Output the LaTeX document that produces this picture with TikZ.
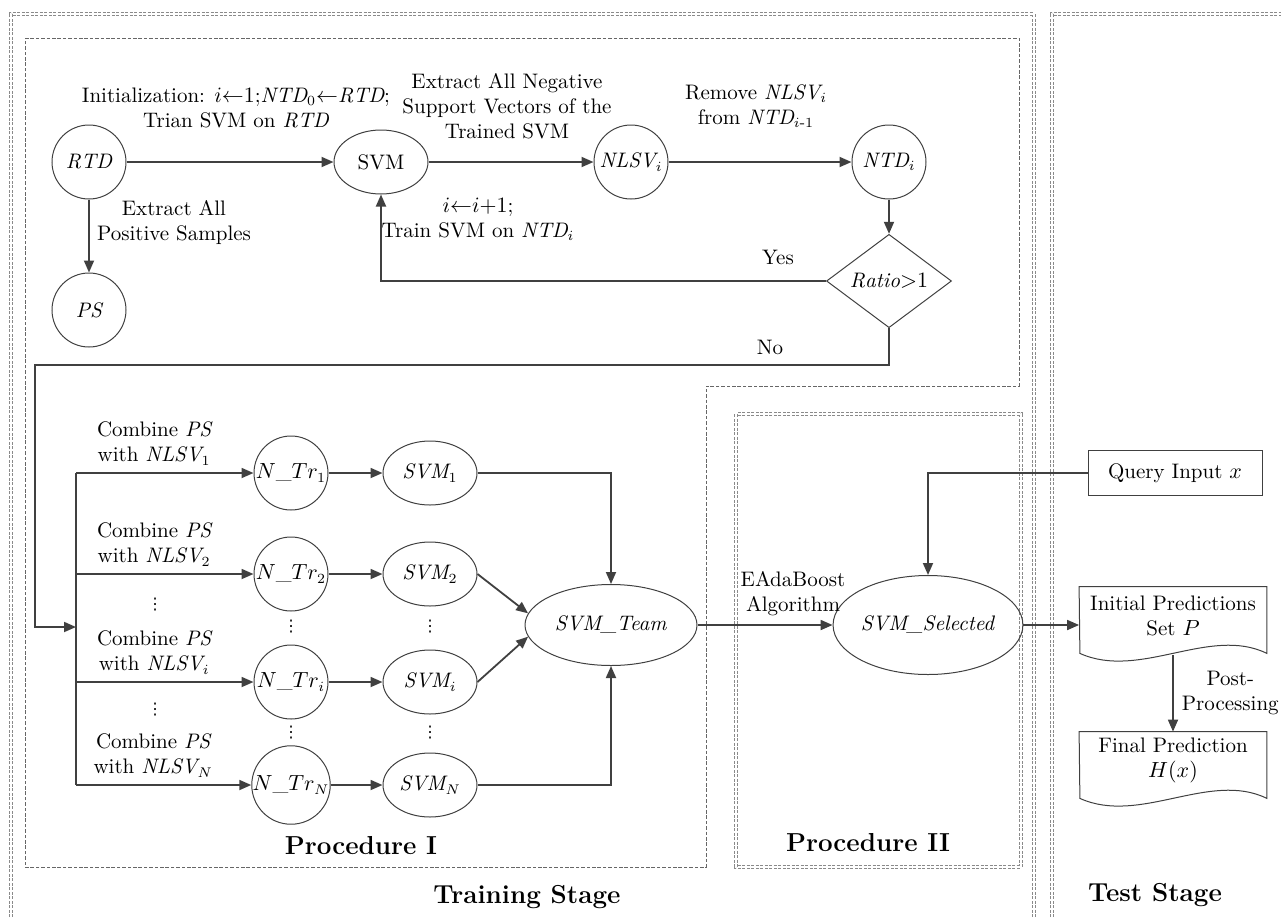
\documentclass[tikz,border=0pt]{standalone}
\usepackage{tikz}
\usepackage{amsmath, amssymb}
\usepackage{fontspec}
\usetikzlibrary{arrows.meta,shapes.geometric}
\newfontfamily\dotsfont{DejaVu Sans}
\definecolor{linegray}{HTML}{404040}
\definecolor{framegray}{HTML}{8A8A8A}
\newcommand{\smallvdots}{{\dotsfont\fontsize{8}{8}\selectfont ⋮}}

\begin{document}
\begin{tikzpicture}[x=0.5pt,y=-0.5pt,
  state/.style={circle, draw=linegray, line width=0.5pt, minimum size=37pt, inner sep=0pt},
  oval/.style={ellipse, draw=linegray, line width=0.5pt, minimum width=47pt, minimum height=32pt, inner sep=0pt},
  arr/.style={draw=linegray, line width=0.9pt, -{Triangle[length=6pt,width=5pt]}},
  bus/.style={draw=linegray, line width=0.9pt},
  frame/.style={draw=framegray, line width=0.4pt, dash pattern=on 1.5pt off 0.75pt},
  dframe/.style={frame, double=white, double distance=1.2pt},
  pframe/.style={draw=black!60, line width=0.45pt, dash pattern=on 1.8pt off 0.9pt},
  doc/.style={draw=linegray, line width=0.5pt},
  title/.style={font=\fontsize{13}{15}\selectfont\bfseries}]
  \tikzstyle{every node}+=[font=\fontsize{10.5}{12.5}\selectfont, inner sep=1pt]
  \useasboundingbox (0,0) rectangle (1281,917);

  \draw [dframe] (11,917) -- (11,14) -- (1034,14) -- (1034,917);
  \draw [dframe] (1052,917) -- (1052,14) -- (1295,14);
  \draw [pframe] (25,38) -- (1019,38) -- (1019,386) -- (706,386) -- (706,867) -- (25,867) -- cycle;
  \draw [dframe] (736,414) rectangle (1021,867);

  \node [state] (rtd) at (89,162) {$\mathit{RTD}$};
  \node [oval] (svm) at (381,162) {SVM};
  \node [state] (nlsv) at (631,162) {$\mathit{NLSV}_i$};
  \node [state] (ntd) at (889,162) {$\mathit{NTD}_i$};
  \node [diamond, draw=linegray, line width=0.5pt, minimum width=62.5pt, minimum height=37.5pt, inner sep=0pt] (ratio) at (889,281) {$\mathit{Ratio}{>}1$};
  \node [state] (ps) at (89,310) {$\mathit{PS}$};

  \draw [arr] (rtd) -- (svm);
  \node [align=center] (initlbl) at (236,108) {Initialization: $i{\leftarrow}1$;$\mathit{NTD}_0{\leftarrow}\mathit{RTD}$;\\Trian SVM on $\mathit{RTD}$};
  \draw [arr] (svm) -- (nlsv);
  \node [align=center] (extractlbl) at (507,106) {Extract All Negative\\Support Vectors of the\\Trained SVM};
  \draw [arr] (nlsv) -- (ntd);
  \node [align=center] (removelbl) at (756,106) {Remove $\mathit{NLSV}_i$\\from $\mathit{NTD}_{i\text{-}1}$};
  \draw [arr] (rtd) -- (ps);
  \node [align=center] (poslbl) at (174,223) {Extract All\\Positive Samples};
  \draw [arr] (ntd) -- (ratio);
  \draw [arr] (ratio.west) -| (svm.south);
  \node (yeslbl) at (778,257) {Yes};
  \node [align=center] (trainlbl) at (478,219) {$i{\leftarrow}i{+}1$;\\Train SVM on $\mathit{NTD}_i$};

  \coordinate (bustop) at (76,473);
  \coordinate (busbot) at (76,785);
  \coordinate (busin) at (76,627);
  \coordinate (noturn) at (889,365);
  \draw [arr] (ratio.south) -- (noturn) -- (35,365) |- (busin);
  \node (nolbl) at (770,347) {No};
  \draw [bus] (bustop) -- (busbot);

  \foreach \k/\y/\s in {1/473/1, 2/574/2, i/682/i, n/785/N} {
    \coordinate (bus\k) at (76,\y);
    \node [state] (ntr\k) at (291,\y) {$N\_Tr_{\s}$};
    \node [oval] (svm\k) at (430,\y) {$\mathit{SVM}_{\s}$};
    \draw [arr] (bus\k) -- node [pos=0.44, above=2.5pt, align=center] {Combine $\mathit{PS}$\\with $\mathit{NLSV}_{\s}$} (ntr\k);
    \draw [arr] (ntr\k) -- (svm\k);
  }
  \foreach \x/\y in {155/605, 155/710, 291/627, 291/733, 430/627, 430/733}
    \node [inner sep=0pt] at (\x,\y) {\smallvdots};

  \node [oval, minimum width=86pt, minimum height=40.5pt] (team) at (611,625) {\textit{SVM\_Team}};
  \draw [arr] (svm1) -| (team.north);
  \draw [arr] (svmn) -| (team.south);
  \draw [arr] (svm2.east) -- (team.172);
  \draw [arr] (svmi.east) -- (team.188);

  \node [oval, minimum width=83.5pt, minimum height=49.5pt] (sel) at (928,625) {\textit{SVM\_Selected}};
  \draw [arr] (team) -- (sel);
  \node [align=center] (adalbl) at (793,594) {EAdaBoost\\Algorithm};

  \node [draw=linegray, line width=0.5pt, minimum width=87pt, minimum height=22.5pt] (query) at (1175,473) {Query Input $x$};
  \draw [arr] (query.west) -| (sel.north);

  \node [minimum width=93.5pt, minimum height=29pt, inner sep=0pt, align=center] (init) at (1173,616) {Initial Predictions\\Set $P$};
  \draw [doc] (init.north west) -- (init.north east) -- (init.south east) -- ++(0,8) .. controls +(-57,-28) and +(60,27) .. ++(-187,0) -- cycle;
  \draw [arr] (sel.east) -- (sel.east -| init.west);

  \node [minimum width=93.5pt, minimum height=28pt, inner sep=0pt, align=center] (final) at (1173,760) {Final Prediction\\$H(x)$};
  \draw [doc] (final.north west) -- (final.north east) -- (final.south east) -- ++(0,10) .. controls +(-57,-28) and +(60,27) .. ++(-187,0) -- cycle;
  \coordinate (initout) at (1173,655);
  \draw [arr] (initout) -- node [right=3pt, align=center] {Post-\\Processing} (final.north);

  \node [title] at (361,846) {Procedure I};
  \node [title] at (868,843) {Procedure II};
  \node [title] at (527,897) {Training Stage};
  \node [title] at (1155,895) {Test Stage};
\end{tikzpicture}
\end{document}
